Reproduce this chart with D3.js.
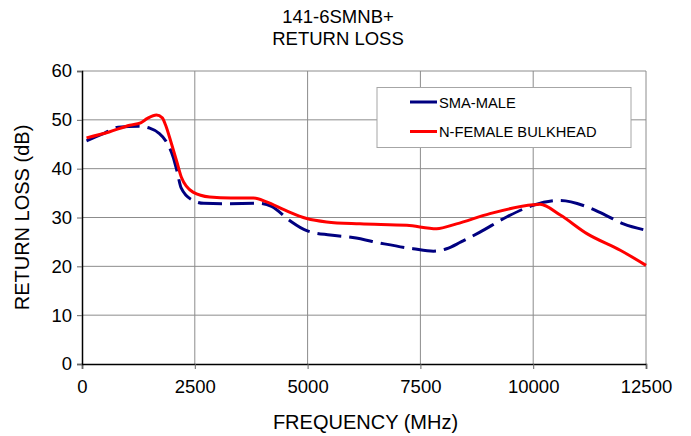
<!DOCTYPE html>
<html>
<head>
<meta charset="utf-8">
<script src="https://cdn.jsdelivr.net/npm/d3@7"></script>
<style>
body { margin: 0; background: #fff; }
svg { font-family: "Liberation Sans", Arial, sans-serif; }
</style>
</head>
<body>
<svg id="chart" width="691" height="436"></svg>
<script>
var titleLines = ["141-6SMNB+", "RETURN LOSS"];
var xTicks = [0, 2500, 5000, 7500, 10000, 12500];
var yTicks = [0, 10, 20, 30, 40, 50, 60];
var seriesNames = ["SMA-MALE", "N-FEMALE BULKHEAD"];

// SMA-MALE
var smaFreq = [100, 500, 800, 1250, 1500, 1700, 1870, 2020, 2100, 2200, 2460, 2700, 3200, 3900, 4200, 4600, 4980, 5500, 6000, 6700, 7340, 7790, 8080, 8400, 8820, 9410, 10000, 10600, 11190, 11600, 12000, 12500];
var smaLoss = [45.7, 47.3, 48.5, 48.7, 48.3, 47.3, 45.5, 42.4, 39.7, 36.0, 33.5, 32.9, 32.8, 32.9, 32.3, 29.4, 27.3, 26.4, 25.9, 24.6, 23.6, 23.1, 23.6, 25.0, 27.0, 30.1, 32.5, 33.5, 32.2, 30.5, 28.7, 27.4];

// N-FEMALE BULKHEAD
var nfFreq = [100, 600, 1060, 1300, 1450, 1650, 1780, 1850, 1980, 2100, 2200, 2460, 2830, 3300, 3800, 4090, 4500, 4980, 5420, 6160, 7200, 7860, 8300, 9040, 10000, 10150, 10600, 11190, 11930, 12500];
var nfLoss = [46.3, 47.5, 48.9, 49.4, 50.3, 51.0, 50.4, 49.0, 45.2, 41.5, 38.3, 35.2, 34.2, 34.0, 34.0, 33.2, 31.5, 29.8, 29.1, 28.7, 28.4, 27.7, 28.7, 30.8, 32.6, 32.7, 30.5, 26.7, 23.3, 20.2];

var svg = d3.select('#chart');
var margin = {left: 82, right: 45, top: 71, bottom: 72};
var w = 691, h = 436;

var x = d3.scaleLinear().domain([0, 12500]).range([margin.left, w - margin.right]);
var y = d3.scaleLinear().domain([0, 60]).range([h - margin.bottom, margin.top]);

// grid
svg.append('g').selectAll('line.gx')
	.data(xTicks.slice(1))
	.join('line')
	.attr('x1', function(d) {return x(d);})
	.attr('x2', function(d) {return x(d);})
	.attr('y1', y(0)).attr('y2', y(60))
	.attr('stroke', '#8c8c8c').attr('stroke-width', 1);

svg.append('g').selectAll('line.gy')
	.data(yTicks.slice(1))
	.join('line')
	.attr('x1', x(0)).attr('x2', x(12500))
	.attr('y1', function(d) {return y(d);})
	.attr('y2', function(d) {return y(d);})
	.attr('stroke', '#8c8c8c').attr('stroke-width', 1);

// axes
var xAxis = svg.append('g')
	.attr('transform', 'translate(0,' + y(0) + ')')
	.call(d3.axisBottom(x).tickValues(xTicks).tickFormat(d3.format('d')).tickSize(5).tickPadding(11));
var yAxis = svg.append('g')
	.attr('transform', 'translate(' + x(0) + ',0)')
	.call(d3.axisLeft(y).tickValues(yTicks).tickSize(5).tickPadding(5));

[xAxis, yAxis].forEach(function(a) {
	a.select('.domain').attr('stroke', '#000').attr('stroke-width', 1.5);
	a.selectAll('.tick line').attr('stroke', '#666');
	a.selectAll('.tick text')
		.attr('font-family', '"Liberation Sans", Arial, sans-serif')
		.attr('font-size', '18.5px')
		.attr('fill', '#000');
});

// lines
var line = d3.line()
	.x(function(d) {return x(d[0]);})
	.y(function(d) {return y(d[1]);})
	.curve(d3.curveMonotoneX);

var smaData = d3.zip(smaFreq, smaLoss);
var nfData = d3.zip(nfFreq, nfLoss);

svg.append('path')
	.datum(smaData)
	.attr('d', line)
	.attr('fill', 'none')
	.attr('stroke', '#000080')
	.attr('stroke-width', 3)
	.attr('stroke-dasharray', '24,8');

svg.append('path')
	.datum(nfData)
	.attr('d', line)
	.attr('fill', 'none')
	.attr('stroke', '#ff0000')
	.attr('stroke-width', 3);

// legend
var lg = svg.append('g');
lg.append('rect')
	.attr('x', 377).attr('y', 87.5)
	.attr('width', 254).attr('height', 60)
	.attr('fill', '#fff').attr('stroke', '#a6a6a6');
var colors = ['#000080', '#ff0000'];
var rows = [102, 131.5];
seriesNames.forEach(function(name, i) {
	lg.append('line')
		.attr('x1', 410).attr('x2', 437)
		.attr('y1', rows[i]).attr('y2', rows[i])
		.attr('stroke', colors[i]).attr('stroke-width', 3);
	lg.append('text')
		.attr('x', 439).attr('y', rows[i] + 5.5)
		.attr('font-size', '14.7px')
		.attr('fill', '#000')
		.text(name);
});

// titles
svg.append('text')
	.attr('text-anchor', 'middle')
	.attr('font-size', '18.5px')
	.selectAll('tspan')
	.data(titleLines)
	.join('tspan')
	.attr('x', 338)
	.attr('y', function(d, i) {return 23 + i * 21.5;})
	.text(function(d) {return d;});

svg.append('text')
	.attr('x', 365.5).attr('y', 429)
	.attr('text-anchor', 'middle')
	.attr('font-size', '20px')
	.text('FREQUENCY (MHz)');

svg.append('text')
	.attr('transform', 'translate(29,' + y(30) + ') rotate(-90)')
	.attr('text-anchor', 'middle')
	.attr('font-size', '20px')
	.text('RETURN LOSS (dB)');
</script>
</body>
</html>
